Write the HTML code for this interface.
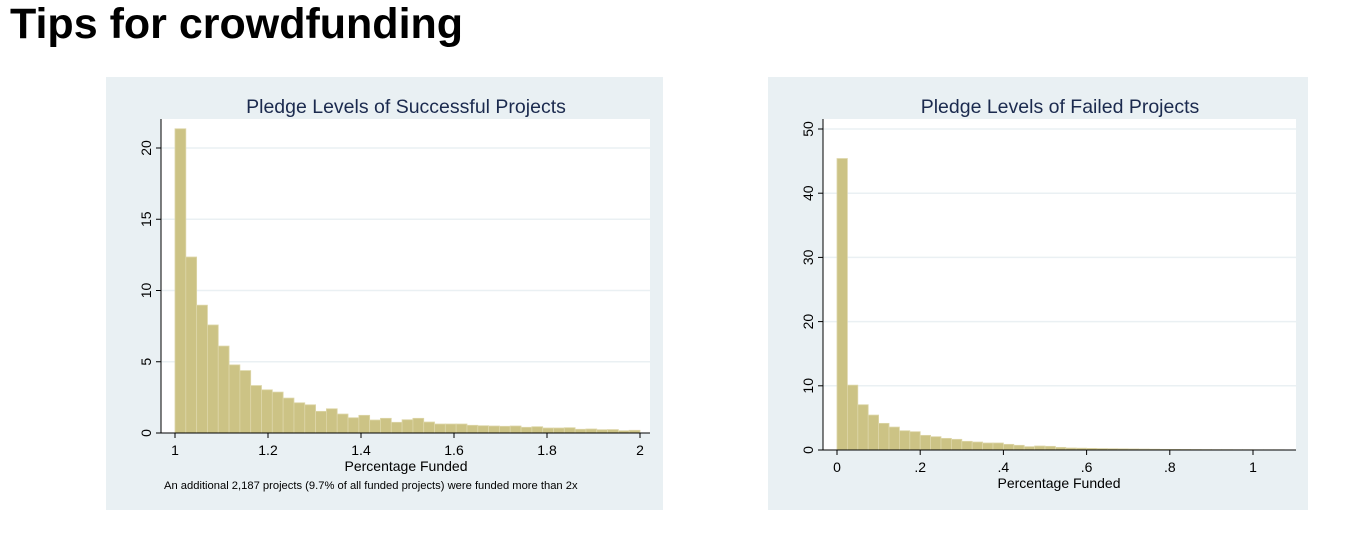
<!DOCTYPE html>
<html><head><meta charset="utf-8"><style>
body{margin:0;width:1364px;height:560px;background:#fff;overflow:hidden;font-family:"Liberation Sans",sans-serif}
h1{position:absolute;left:10px;top:0px;margin:0;font-size:43px;font-weight:bold;color:#000}
svg{position:absolute;left:0;top:0}
</style></head><body>
<svg id="s" width="1364" height="560"></svg>
<h1>Tips for crowdfunding</h1>
<script>
const succValues=[21.35,12.35,8.97,7.58,6.1,4.78,4.38,3.33,3.03,2.87,2.45,2.12,1.98,1.52,1.7,1.33,1.07,1.24,0.91,1.03,0.75,0.93,1.03,0.77,0.63,0.63,0.63,0.54,0.51,0.49,0.47,0.49,0.4,0.44,0.35,0.35,0.37,0.26,0.28,0.23,0.24,0.16,0.19];
const succXTicks=[1,1.2,1.4,1.6,1.8,2];
const succXLabels=["1","1.2","1.4","1.6","1.8","2"];
const succYTicks=[0,5,10,15,20];
const failValues=[45.4,10.1,7.05,5.44,4.15,3.57,3.0,2.85,2.28,2.07,1.81,1.66,1.35,1.24,1.09,1.09,0.88,0.73,0.52,0.62,0.57,0.41,0.31,0.28,0.25,0.22,0.2,0.18,0.16,0.14,0.12,0.1,0.09,0.08,0.07,0.06,0.05,0.05,0.04,0.04,0.03,0.03,0.03];
const failXTicks=[0,0.2,0.4,0.6,0.8,1];
const failXLabels=["0",".2",".4",".6",".8","1"];
const failYTicks=[0,10,20,30,40,50];
const NS="http://www.w3.org/2000/svg";
const svg=document.getElementById('s');
function mk(t,a,p){const e=document.createElementNS(NS,t);for(const k in a)e.setAttribute(k,a[k]);(p||svg).appendChild(e);return e;}
function chart(o){
  const g=mk('g',{});
  
  
  mk('rect',{x:o.bx,y:o.by,width:o.bw,height:o.bh,fill:'#e9f0f3'},g);
  mk('rect',{x:o.px0,y:o.py1,width:o.px1-o.px0,height:o.py0-o.py1,fill:'#fff'},g);
  const X=v=>o.x0+(v-o.xa)/(o.xb-o.xa)*(o.x1-o.x0);
  const Y=v=>o.py0-(v/o.ymax)*(o.py0-o.ytop);
  o.yTicks.forEach(t=>{
    if(t>0){const gl=mk('line',{x1:o.px0,x2:o.px1,y1:Y(t),y2:Y(t),stroke:'#eaf0f3','stroke-width':1.5},g);
    }
  });
  o.values.forEach((v,i)=>{
    const a=X(o.start+i*o.bin),b=X(o.start+(i+1)*o.bin);
    const r=mk('rect',{x:a,y:Y(v),width:b-a,height:o.py0-Y(v),fill:'#ccc385',stroke:'#ddd6a8','stroke-width':0.8},g);
    
    
  });
  mk('line',{x1:o.px0,x2:o.px0,y1:o.py1,y2:o.py0,stroke:'#000','stroke-width':1},g);
  mk('line',{x1:o.px0,x2:o.px1,y1:o.py0,y2:o.py0,stroke:'#000','stroke-width':1},g);
  o.yTicks.forEach(t=>{
    mk('line',{x1:o.px0-5,x2:o.px0,y1:Y(t),y2:Y(t),stroke:'#000'},g);
    const tx=mk('text',{x:0,y:0,transform:`translate(${o.px0-10},${Y(t)}) rotate(-90)`,'text-anchor':'middle','font-size':14,fill:'#000'},g);
    tx.textContent=t;
    
  });
  o.xTicks.forEach((t,i)=>{
    mk('line',{x1:X(t),x2:X(t),y1:o.py0,y2:o.py0+5,stroke:'#000'},g);
    const tx=mk('text',{x:X(t),y:o.py0+22,'text-anchor':'middle','font-size':14,fill:'#000'},g);
    tx.textContent=o.xLabels[i];
    
  });
  const ti=mk('text',{x:o.tx,y:o.by+36,'text-anchor':'middle','font-size':19.5,fill:'#1b2a4e'},g);
  ti.textContent=o.title;
  const xt=mk('text',{x:o.xtx,y:o.py0+38,'text-anchor':'middle','font-size':14,fill:'#000'},g);
  xt.textContent='Percentage Funded';
  if(o.note){const n=mk('text',{x:164,y:o.py0+56,'font-size':11.2,fill:'#000'},g);n.textContent=o.note;
  }
}
chart({name:'successful-chart',bx:106,by:77,bw:557,bh:433,px0:161,px1:650,py0:433,py1:119,x0:175,x1:640,xa:1,xb:2,ytop:148,ymax:20,
 values:succValues,start:1,bin:1/43,yTicks:succYTicks,xTicks:succXTicks,xLabels:succXLabels,title:'Pledge Levels of Successful Projects',tx:406,xtx:406,
 note:'An additional 2,187 projects (9.7% of all funded projects) were funded more than 2x'});
chart({name:'failed-chart',bx:768,by:77,bw:540,bh:433,px0:823,px1:1296,py0:450,py1:119,x0:837,x1:1253,xa:0,xb:1,ytop:129,ymax:50,
 values:failValues,start:0,bin:0.025,yTicks:failYTicks,xTicks:failXTicks,xLabels:failXLabels,title:'Pledge Levels of Failed Projects',tx:1060,xtx:1059});
</script>
</body></html>
